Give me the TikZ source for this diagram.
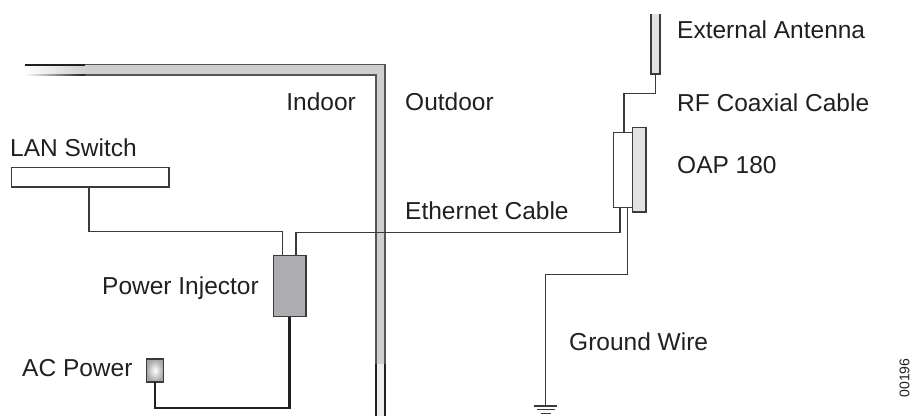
\documentclass[tikz,border=0pt]{standalone}
\usepackage{fontspec}
\setmainfont{Liberation Sans}
\usetikzlibrary{calc}
\definecolor{inkc}{HTML}{231F20}
\definecolor{wirec}{HTML}{3A3A3A}
\definecolor{wallc}{HTML}{CFCFD1}
\definecolor{walledge}{HTML}{555555}
\definecolor{lightc}{HTML}{E2E2E4}
\definecolor{injc}{HTML}{ADADB1}
\begin{document}
\begin{tikzpicture}[x=1pt,y=-1pt,
  wire/.style={draw=wirec, line width=1.3pt},
  power/.style={draw=inkc, line width=2.6pt},
  wedge/.style={draw=walledge, line width=1.5pt},
  box/.style={draw=wirec, line width=1.3pt, inner sep=0pt, outer sep=0pt},
  lbl/.style={font=\fontsize{24.5}{28}\selectfont, text=inkc, inner sep=0pt}]
\useasboundingbox (0,0) rectangle (914,418);
% wall
\fill[wallc] (85,64.7) -- (385,64.7) -- (385,364) -- (376,364) -- (376,75) -- (85,75) -- cycle;
\shade[left color=white, right color=wallc] (25,64.7) rectangle (85,75);
\fill[black!7] (376,364) rectangle (385,416);
\draw[wedge] (85,64.7) -- (385,64.7) -- (385,364);
\draw[wedge] (85,75) -- (376,75) -- (376,364);
\draw[inkc, line width=1.6pt] (25,64.7) -- (85,64.7);
\shade[left color=white, right color=inkc] (25,74.2) rectangle (85,75.8);
\draw[inkc, line width=1.6pt] (376,364) -- (376,416) (385,364) -- (385,416);
% nodes
\node[box, minimum width=157.3pt, minimum height=19.7pt] (lan) at (90.35,177.2) {};
\node[box, fill=injc, minimum width=32.7pt, minimum height=61pt] (inj) at (289.7,286.2) {};
\node[box, shading=radial, inner color=white, outer color=gray!70, minimum width=16.6pt, minimum height=23pt] (ac) at (155,370.5) {};
\node[inner sep=0pt, outer sep=0pt, fill=lightc, minimum width=9pt, minimum height=60pt] (ant) at (655.5,44) {};
\draw[wire] (ant.north west) -- (ant.south west) -- (ant.south east) -- (ant.north east);
\node[box, fill=lightc, minimum width=13.3pt, minimum height=84.7pt] (panel) at (639.35,169.65) {};
\node[box, fill=white, minimum width=19.4pt, minimum height=75.4pt] (oap) at (623,170) {};
\coordinate (gnd) at (545.7,406);
% connectors
\draw[wire] (ant.south) -- ++(0,19.3) -| ([xshift=1pt]oap.north);
\draw[wire] ([xshift=-3pt]oap.south) |- (296,232.3) -- ([xshift=6.3pt]inj.north);
\draw[wire] ([xshift=-7pt]inj.north) |- (89,231.7) -- ([xshift=-1.35pt]lan.south);
\draw[wire] ([xshift=4.3pt]oap.south) |- (545.7,274.3) -- (gnd);
\draw[wire] ($(gnd)+(-11.7,0)$) -- ($(gnd)+(11.6,0)$);
\draw[wire] ($(gnd)+(-9,3.7)$) -- ($(gnd)+(9.3,3.7)$);
\draw[wire] ($(gnd)+(-5,7.3)$) -- ($(gnd)+(5.3,7.3)$);
\draw[power] (inj.south) |- (155,408) -- (ac.south);
% labels
\node[lbl, anchor=base west] (tant) at (677,38) {External Antenna};
\node[lbl, anchor=base east] (tin) at (356,110) {Indoor};
\node[lbl, anchor=base west] (tout) at (405,110) {Outdoor};
\node[lbl, anchor=base west] (trf) at (677,111) {RF Coaxial Cable};
\node[lbl, anchor=base west] (tlan) at (10,156) {LAN Switch};
\node[lbl, anchor=base west] (toap) at (677,173) {OAP 180};
\node[lbl, anchor=base west] (teth) at (405,219) {Ethernet Cable};
\node[lbl, anchor=base east] (tinj) at (259,294) {Power Injector};
\node[lbl, anchor=base west] (tgnd) at (569,350) {Ground Wire};
\node[lbl, anchor=base west] (tac) at (22,376) {AC Power};
\node[font=\fontsize{14}{16}\selectfont, text=inkc, inner sep=0pt, rotate=90] (tid) at (904.5,378) {00196};
\end{tikzpicture}
\end{document}
